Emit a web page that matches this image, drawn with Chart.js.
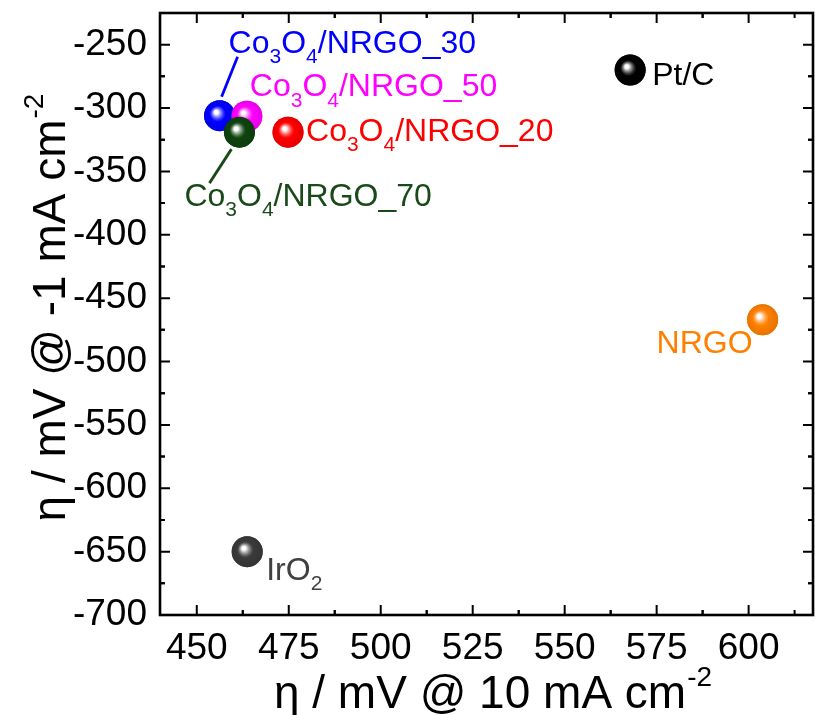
<!DOCTYPE html>
<html><head><meta charset="utf-8">
<script src="https://cdn.jsdelivr.net/npm/chart.js@4.4.1/dist/chart.umd.min.js"></script>
<style>html,body{margin:0;padding:0;background:#fff}#wrap{width:815px;height:715px}</style>
</head><body><div id="wrap"><canvas id="c" width="815" height="715"></canvas></div>
<script>
// ---- data ----
const samples   = ['Pt/C', 'NRGO', 'IrO2', 'Co3O4/NRGO_20', 'Co3O4/NRGO_30', 'Co3O4/NRGO_50', 'Co3O4/NRGO_70'];
const eta10     = [567.8, 603.8, 463.7, 474.8, 456.2, 463.6, 461.6];
const etaMinus1 = [-270, -467, -650, -319, -306, -306.5, -319];
const xTicks = [450, 475, 500, 525, 550, 575, 600];
const yTicks = [-700, -650, -600, -550, -500, -450, -400, -350, -300, -250];
const xTitle = ['\u03b7 / mV @ 10 mA cm', '-2'];
const yTitle = ['\u03b7 / mV @ -1 mA cm', '-2'];

// ---- styles ----
const FONT = "'Liberation Sans', Arial, Helvetica, sans-serif";
const pointColors = ['#000000', '#FF8000', '#3A3A3A', '#FF0000', '#0000FF', '#FF00FF', '#0E430E'];
const labelColors = ['#000000', '#FF8000', '#404040', '#FF0000', '#0000FF', '#FF00FF', '#1A4A1A'];
const labelOffsets = [[22, 15], [-106, 33], [19, 28], [18, 9], [9, -63], [3, -20], [-55, 74]];
const leaders = [null, null, null, null, [18, -59, 2, -19], null, [-8, 17, -30, 51]];
const R = 15.5;

function hexToRgb(h){h=h.replace('#','');return [parseInt(h.substr(0,2),16),parseInt(h.substr(2,2),16),parseInt(h.substr(4,2),16)];}
function mix(c, t, f){const a=hexToRgb(c), b=hexToRgb(t);return 'rgb('+a.map((v,i)=>Math.round(v+(b[i]-v)*f)).join(',')+')';}

function drawSphere(ctx, x, y, r, col){
  const hx = x - 0.25*r, hy = y - 0.25*r;
  const g = ctx.createRadialGradient(hx, hy, 0, x, y, r);
  g.addColorStop(0, '#ffffff');
  g.addColorStop(0.12, '#ffffff');
  g.addColorStop(0.24, mix(col, '#ffffff', 0.62));
  g.addColorStop(0.4, mix(col, '#ffffff', 0.2));
  g.addColorStop(0.52, col);
  g.addColorStop(1, mix(col, '#000000', 0.1));
  ctx.beginPath(); ctx.arc(x, y, r, 0, Math.PI*2); ctx.fillStyle = g; ctx.fill();
}

function segments(name){
  const out = []; const re = /([A-Za-z])(\d+)/g; let last = 0, m;
  while ((m = re.exec(name))){
    out.push([name.slice(last, m.index+1), 0]);
    out.push([m[2], 1]);
    last = m.index + m[0].length;
  }
  out.push([name.slice(last), 0]);
  return out.filter(s=>s[0].length);
}

function drawRich(ctx, x, y, segs, size, color){
  ctx.fillStyle = color; ctx.textBaseline = 'alphabetic'; ctx.textAlign = 'left';
  let cx = x;
  segs.forEach(([t, sub])=>{
    if (sub){ ctx.font = Math.round(size*0.65)+'px '+FONT; ctx.fillText(t, cx, y + size*0.32); }
    else { ctx.font = size+'px '+FONT; ctx.fillText(t, cx, y); }
    cx += ctx.measureText(t).width;
  });
}

function titleWidth(ctx, parts, size){
  ctx.font = size+'px '+FONT; const w1 = ctx.measureText(parts[0]).width;
  ctx.font = Math.round(size*0.6)+'px '+FONT; const w2 = ctx.measureText(parts[1]).width;
  return [w1, w2];
}
function drawTitle(ctx, parts, size){
  const [w1, w2] = titleWidth(ctx, parts, size);
  const x0 = -(w1+w2)/2;
  ctx.fillStyle = '#000'; ctx.textBaseline = 'alphabetic'; ctx.textAlign = 'left';
  ctx.font = size+'px '+FONT; ctx.fillText(parts[0], x0, 0);
  ctx.font = Math.round(size*0.6)+'px '+FONT; ctx.fillText(parts[1], x0 + w1 + 1, -size*0.47);
}

const decor = {
  id: 'decor',
  afterDatasetsDraw(chart){
    const ctx = chart.ctx; const meta = chart.getDatasetMeta(0);
    ctx.save();
    meta.data.forEach((el, i)=>{ drawSphere(ctx, el.x, el.y, R, pointColors[i]); });
    meta.data.forEach((el, i)=>{
      const L = leaders[i];
      if (L){
        ctx.beginPath(); ctx.moveTo(el.x+L[0], el.y+L[1]); ctx.lineTo(el.x+L[2], el.y+L[3]);
        ctx.strokeStyle = labelColors[i]; ctx.lineWidth = 2.8; ctx.lineCap = 'butt'; ctx.stroke();
      }
      const o = labelOffsets[i];
      drawRich(ctx, el.x+o[0], el.y+o[1], segments(samples[i]), 32, labelColors[i]);
    });
    ctx.restore();
  },
  afterDraw(chart){
    const ctx = chart.ctx; const a = chart.chartArea; const xs = chart.scales.x, ys = chart.scales.y;
    ctx.save();
    ctx.strokeStyle = '#000'; ctx.lineWidth = 2.6;
    ctx.strokeRect(a.left, a.top, a.right - a.left, a.bottom - a.top);
    ctx.lineWidth = 2;
    const majorLen = 10, minorLen = 5;
    function xt(v, len){ const p = xs.getPixelForValue(v); if (p <= a.left+1 || p >= a.right-1) return;
      ctx.beginPath(); ctx.moveTo(p, a.bottom); ctx.lineTo(p, a.bottom-len); ctx.moveTo(p, a.top); ctx.lineTo(p, a.top+len); ctx.stroke(); }
    function yt(v, len){ const p = ys.getPixelForValue(v); if (p <= a.top+1 || p >= a.bottom-1) return;
      ctx.beginPath(); ctx.moveTo(a.left, p); ctx.lineTo(a.left+len, p); ctx.moveTo(a.right, p); ctx.lineTo(a.right-len, p); ctx.stroke(); }
    const xStep = xTicks[1]-xTicks[0], yStep = yTicks[1]-yTicks[0];
    xTicks.forEach(v=>{ xt(v, majorLen); xt(v - xStep/2, minorLen); xt(v + xStep/2, minorLen); });
    yTicks.forEach(v=>{ yt(v, majorLen); yt(v - yStep/2, minorLen); yt(v + yStep/2, minorLen); });
    const TS = 46;
    ctx.save(); ctx.translate((a.left + a.right)/2 + 6, 708); drawTitle(ctx, xTitle, TS); ctx.restore();
    ctx.save(); ctx.translate(65, (a.top + a.bottom)/2 - 6); ctx.rotate(-Math.PI/2); drawTitle(ctx, yTitle, TS); ctx.restore();
    ctx.restore();
  }
};

new Chart(document.getElementById('c'), {
  type: 'scatter',
  data: { datasets: [{
    label: 'samples',
    data: eta10.map((x, i)=>({x, y: etaMinus1[i]})),
    pointRadius: R, pointHoverRadius: R, pointBorderWidth: 0,
    pointBackgroundColor: pointColors, pointBorderColor: pointColors
  }]},
  options: {
    responsive: false, animation: false, devicePixelRatio: 1,
    layout: { autoPadding: false, padding: { top: 13, right: 2, left: 0, bottom: 0 } },
    plugins: { legend: { display: false }, tooltip: { enabled: false } },
    events: [],
    scales: {
      x: {
        type: 'linear', min: 440, max: 617.5,
        grid: { display: false, drawTicks: false }, border: { display: false },
        afterBuildTicks: s => { s.ticks = xTicks.map(v=>({value: v})); },
        afterFit: s => { s.height = 100; s.paddingLeft = 0; s.paddingRight = 0; },
        ticks: { color: '#000', padding: 12, font: { family: FONT, size: 37 }, maxRotation: 0 }
      },
      y: {
        type: 'linear', min: -700, max: -225,
        grid: { display: false, drawTicks: false }, border: { display: false },
        afterBuildTicks: s => { s.ticks = yTicks.map(v=>({value: v})); },
        afterFit: s => { s.width = 160; s.paddingTop = 0; s.paddingBottom = 0; },
        ticks: { color: '#000', padding: 13, font: { family: FONT, size: 37 } }
      }
    }
  },
  plugins: [decor]
});
</script></body></html>
